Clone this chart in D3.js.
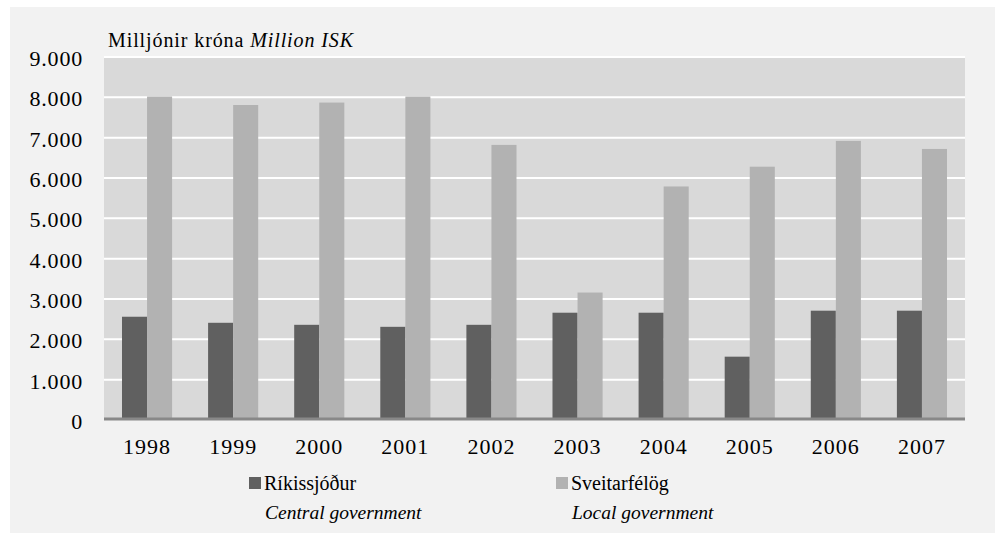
<!DOCTYPE html>
<html lang='en'>
<head>
  <meta charset='utf-8'>
  <title>Ríkissjóður og sveitarfélög</title>
  <script src='https://cdn.jsdelivr.net/npm/d3@7/dist/d3.min.js'></script>
  <style>
    body { margin: 0; background: #fff; }
    text { font-family: 'Liberation Serif', 'Times New Roman', serif; fill: #000; }
  </style>
</head>
<body>
  <script>
    // data
    let years = ["1998", "1999", "2000", "2001", "2002", "2003", "2004", "2005", "2006", "2007"];
    let rikissjodur = [2560, 2410, 2360, 2310, 2360, 2660, 2660, 1570, 2710, 2710];
    let sveitarfelog = [8020, 7810, 7870, 8020, 6820, 3160, 5790, 6280, 6920, 6720];
    let yTicks = [0, 1000, 2000, 3000, 4000, 5000, 6000, 7000, 8000, 9000];
    let seriesKeys = ["rik", "sveit"];

    let width = 997, height = 535;
    let plot = { left: 104, right: 965, top: 57, bottom: 420 };

    let svg = d3.select("body").append("svg")
      .attr("width", width)
      .attr("height", height);

    // outer background
    svg.append("rect")
      .attr("x", 10).attr("y", 7)
      .attr("width", 985).attr("height", 526)
      .attr("fill", "#f2f2f2");

    // plot background
    svg.append("rect")
      .attr("x", plot.left).attr("y", plot.top)
      .attr("width", plot.right - plot.left).attr("height", plot.bottom - plot.top)
      .attr("fill", "#d9d9d9");

    // scales
    let x0 = d3.scaleBand()
      .domain(years)
      .range([plot.left, plot.right])
      .paddingInner(0.418)
      .paddingOuter(0.209);
    let x1 = d3.scaleBand()
      .domain(seriesKeys)
      .range([0, x0.bandwidth()]);
    let y = d3.scaleLinear()
      .domain([0, 9000])
      .range([plot.bottom, plot.top]);
    let color = d3.scaleOrdinal()
      .domain(seriesKeys)
      .range(["#606060", "#b2b2b2"]);

    // gridlines
    svg.append("g").selectAll("line")
      .data(yTicks.filter(d => d > 0))
      .join("line")
      .attr("x1", plot.left).attr("x2", plot.right)
      .attr("y1", d => y(d)).attr("y2", d => y(d))
      .attr("stroke", "#ffffff")
      .attr("stroke-width", 2);

    // bars
    let rows = years.map((yr, i) => ({ year: yr, rik: rikissjodur[i], sveit: sveitarfelog[i] }));
    let groups = svg.append("g").selectAll("g")
      .data(rows)
      .join("g")
      .attr("transform", d => `translate(${x0(d.year)},0)`);
    groups.selectAll("rect")
      .data(d => seriesKeys.map(k => ({ key: k, value: d[k] })))
      .join("rect")
      .attr("x", d => x1(d.key))
      .attr("width", x1.bandwidth())
      .attr("y", d => y(d.value))
      .attr("height", d => y(0) - y(d.value))
      .attr("fill", d => color(d.key));

    // baseline
    svg.append("line")
      .attr("x1", plot.left).attr("x2", plot.right)
      .attr("y1", y(0) - 1).attr("y2", y(0) - 1)
      .attr("stroke", "#888888")
      .attr("stroke-width", 3);

    // y axis labels
    let isl = d3.formatLocale({ decimal: ",", thousands: ".", grouping: [3], currency: ["", ""] });
    let yAxis = d3.axisLeft(y)
      .tickValues(yTicks)
      .tickSize(0)
      .tickPadding(0)
      .tickFormat(isl.format(",d"));
    let yg = svg.append("g")
      .attr("transform", `translate(83,0)`)
      .call(yAxis);
    yg.select(".domain").remove();
    yg.selectAll("text")
      .attr("font-size", 22)
      .attr("letter-spacing", "0.8px")
      .attr("dy", "0.38em")
      .attr("fill", "#000");

    // x axis labels
    let xAxis = d3.axisBottom(x0).tickSize(0).tickPadding(0);
    let xg = svg.append("g")
      .attr("transform", `translate(0,${plot.bottom})`)
      .call(xAxis);
    xg.select(".domain").remove();
    xg.selectAll("text")
      .attr("font-size", 22)
      .attr("letter-spacing", "1px")
      .attr("y", 34)
      .attr("dy", 0)
      .attr("fill", "#000");

    // unit title
    let title = svg.append("text")
      .attr("x", 108).attr("y", 47)
      .attr("font-size", 20)
      .attr("letter-spacing", "0.9px");
    title.append("tspan").text("Milljónir króna ");
    title.append("tspan").attr("font-style", "italic").text("Million ISK");

    // legend
    let legend = [
      { key: "rik", is: "Ríkissjóður", en: "Central government", x: 249 },
      { key: "sveit", is: "Sveitarfélög", en: "Local government", x: 556 }
    ];
    let lg = svg.append("g").selectAll("g")
      .data(legend)
      .join("g")
      .attr("transform", d => `translate(${d.x},0)`);
    lg.append("rect")
      .attr("x", 0).attr("y", 477)
      .attr("width", 12).attr("height", 12)
      .attr("fill", d => color(d.key));
    lg.append("text")
      .attr("x", 15).attr("y", 490)
      .attr("font-size", 20)
      .text(d => d.is);
    lg.append("text")
      .attr("x", 16).attr("y", 519)
      .attr("font-size", 19.5)
      .attr("font-style", "italic")
      .text(d => d.en);
  </script>
</body>
</html>
